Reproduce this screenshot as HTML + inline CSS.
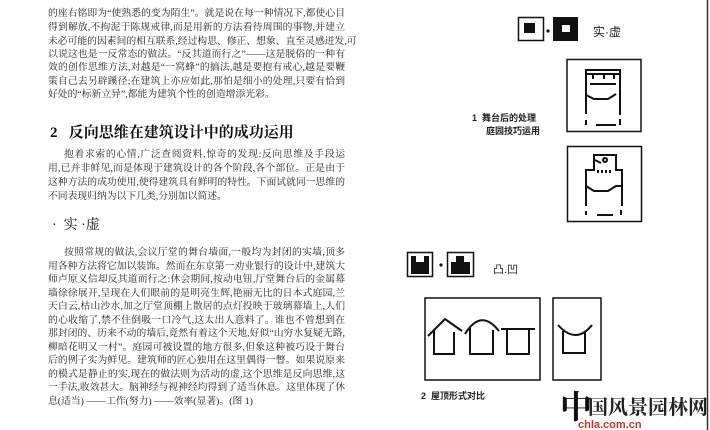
<!DOCTYPE html>
<html><head><meta charset="utf-8"><style>
body{margin:0;width:710px;height:430px;background:#fff;overflow:hidden;position:relative;font-family:"Liberation Serif","Noto Serif CJK SC","Noto Sans CJK SC",serif;color:#222}
.l{position:absolute;left:48px;width:297px;font-size:9.8px;line-height:13px;height:13px;text-align:justify;text-align-last:justify;white-space:nowrap;overflow:visible}
.i{left:64px;width:281px}
.h{position:absolute;font-size:15px;font-weight:bold;color:#111}
svg{position:absolute;left:0;top:0}
</style></head><body>
<div class="l" style="top:7px">的座右铭即为“使熟悉的变为陌生”。就是说在每一种情况下,都使心目</div>
<div class="l" style="top:21px">得到解放,不拘泥于陈规戒律,而是用新的方法看待周围的事物,并建立</div>
<div class="l" style="top:35px">未必可能的因素间的相互联系,经过构思、修正、想象、直至灵感迸发,可</div>
<div class="l" style="top:48px">以说这也是一反常态的做法。“反其道而行之”——这是脱俗的一种有</div>
<div class="l" style="top:61px">效的创作思维方法,对越是“一窝蜂”的搞法,越是要抱有戒心,越是要鞭</div>
<div class="l" style="top:75px">策自己去另辟蹊径;在建筑上亦应如此,那怕是细小的处理,只要有恰到</div>
<div class="l" style="top:88px;text-align-last:left">好处的“标新立异”,都能为建筑个性的创造增添光彩。</div>
<div class="h" style="left:50px;top:121px">2 &nbsp; 反向思维在建筑设计中的成功运用</div>
<div class="l i" style="top:148px">抱着求索的心情,广泛查阅资料,惊奇的发现:反向思维及手段运</div>
<div class="l" style="top:162px">用,已并非鲜见,而是体现于建筑设计的各个阶段,各个部位。正是由于</div>
<div class="l" style="top:176px">这种方法的成功使用,使得建筑具有鲜明的特性。下面试就同一思维的</div>
<div class="l" style="top:190px;text-align-last:left">不同表现归纳为以下几类,分别加以简述。</div>
<div class="h" style="left:52px;top:214px;font-weight:normal;font-size:14px">· &nbsp;实 ·虚</div>
<div class="l i" style="top:246px">按照常规的做法,会议厅堂的舞台墙面,一般均为封闭的实墙,顶多</div>
<div class="l" style="top:260px">用各种方法将它加以装饰。然而在东京第一劝业银行的设计中,建筑大</div>
<div class="l" style="top:273px">师卢原义信却反其道而行之:休会期间,按动电钮,厅堂舞台后的金属幕</div>
<div class="l" style="top:287px">墙徐徐展开,呈现在人们眼前的是明亮生辉,艳丽无比的日本式庭园,兰</div>
<div class="l" style="top:300px">天白云,枯山沙水,加之厅堂顶棚上散居的点灯投映于玻璃幕墙上,人们</div>
<div class="l" style="top:314px">的心收缩了,禁不住倒吸一口冷气,这太出人意料了。谁也不曾想到在</div>
<div class="l" style="top:327px">那封闭的、历来不动的墙后,竟然有着这个天地,好似“山穷水复疑无路,</div>
<div class="l" style="top:341px">柳暗花明又一村”。庭园可被设置的地方很多,但象这种被巧设于舞台</div>
<div class="l" style="top:354px">后的例子实为鲜见。建筑师的匠心独用在这里偶得一瞥。如果说原来</div>
<div class="l" style="top:368px">的模式是静止的实,现在的做法则为活动的虚,这个思维是反向思维,这</div>
<div class="l" style="top:381px">一手法,收效甚大。脑神经与视神经均得到了适当休息。这里体现了休</div>
<div class="l" style="top:395px;text-align-last:left">息(适当) ——工作(努力) ——效率(显著)。(图 1)</div>

<svg width="710" height="430" viewBox="0 0 710 430">
<line x1="707.5" y1="0" x2="707.5" y2="430" stroke="#333" stroke-width="1.5"/>
<g font-family="Liberation Sans,Noto Sans CJK SC,sans-serif" fill="#222">
<rect x="518.5" y="17.5" width="25" height="23" fill="none" stroke="#111" stroke-width="1.5"/>
<rect x="524" y="23" width="11" height="10" fill="#111"/>
<circle cx="548" cy="31" r="1.6" fill="#111"/>
<rect x="553" y="17" width="25" height="24" fill="#111"/>
<rect x="562" y="25" width="8" height="7" fill="#fff"/>
<text x="593" y="36" font-size="12">实·虚</text>
<text x="472" y="121" font-size="9" font-weight="bold">1 &#160;舞台后的处理</text>
<text x="486" y="134" font-size="9" font-weight="bold">庭园技巧运用</text>
<rect x="407.5" y="252.5" width="25" height="24" fill="none" stroke="#111" stroke-width="1.5"/>
<path d="M411 256h18v18h-18z" fill="#111"/>
<rect x="416" y="256" width="8" height="6" fill="#fff"/>
<circle cx="441" cy="265" r="1.6" fill="#111"/>
<rect x="447.5" y="252.5" width="26" height="24" fill="none" stroke="#111" stroke-width="1.5"/>
<path d="M451 262h5v-6h8v6h6v12h-19z" fill="#111"/>
<text x="493" y="273" font-size="11">凸.凹</text>
<text x="421" y="399" font-size="9" font-weight="bold">2 &#160;屋顶形式对比</text>
</g>
<g fill="none" stroke="#111" stroke-width="1.5">
<rect x="567" y="59.5" width="74" height="72"/>
<rect x="567.5" y="146.5" width="74" height="75"/>
<rect x="425" y="298" width="115" height="82"/>
<rect x="553" y="298" width="48" height="82"/>
</g>
<g fill="none" stroke="#111" stroke-width="2">
<path d="M586 114v-44h34v44 M586 74h34 M590 84h26 M586 95l8 4h14l8-5 M586 125v-5 M596 125h20 M620 125v-6 M620 96v19 M593 74v5 M604 74v5 M614 74v5"/>
<path d="M586 206v-36h8v-15h22v15h6v36 M586 186l8 5h14l8-5h6 M586 215v-4 M597 215h16 M621 215v-5"/>
<path d="M595 160l6 3 M605 158a2 2 0 1 0 .1 0 M598 170v3 M602 170v3 M606 170v3 M610 170v3"/>
<path d="M428 336l17-17 17 12 M434 330v24h20v-22"/>
<path d="M465 334q16-26 34-3 M470 328v26h23v-24"/>
<path d="M501 329h34 M507 329v25h22v-25"/>
<path d="M558 325q18 20 34 0 M563 331v22h22v-22"/>
</g>
<g font-family="Noto Serif CJK SC,serif" font-weight="bold">
<text x="560" y="418" font-size="32" fill="#111">中</text>
<text x="588" y="414" font-size="20" fill="#222">国风景园林网</text>
<text x="578" y="428" font-size="11" fill="#c0392b" font-family="Liberation Sans,sans-serif" font-weight="bold">chla.com.cn</text>
</g>
</svg>
</body></html>
